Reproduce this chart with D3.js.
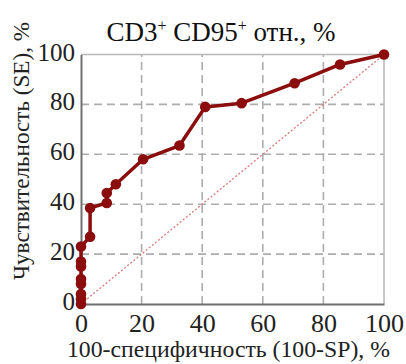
<!DOCTYPE html>
<html><head><meta charset="utf-8">
<script src="https://cdn.jsdelivr.net/npm/d3@7"></script>
<style>body{margin:0;background:#fff}svg{display:block}text{font-family:"Liberation Serif","Times New Roman",serif}</style>
</head><body>
<script>
const fpr = [0, 0, 0, 0, 0, 0, 0, 0, 3, 3, 8.5, 8.5, 11.5, 20.5, 32.5, 41, 53, 70.5, 85.5, 100];
const sens = [0, 2, 4, 8, 10, 15, 17, 23, 27, 38.5, 40.5, 44.5, 48, 58, 63.5, 79, 80.5, 88.5, 96, 100];
const ticks = [0, 20, 40, 60, 80, 100];
const title = "CD3";
const xLabel = "100-специфичность (100-SP), %";
const yLabel = "Чувствительность (SE), %";

const W = 406, H = 364;
const FF = '"Liberation Serif", "Times New Roman", serif';
const svg = d3.select("body").append("svg").attr("width", W).attr("height", H);
const x = d3.scaleLinear().domain([0, 100]).range([81, 384]);
const y = d3.scaleLinear().domain([0, 100]).range([304, 54.5]);

// gridlines
const g = svg.append("g");
g.selectAll(".gx").data(ticks.slice(1, -1)).join("line")
  .attr("x1", d => x(d)).attr("x2", d => x(d)).attr("y1", y(0)).attr("y2", y(100))
  .attr("stroke", "#adadad").attr("stroke-width", 1.6).attr("stroke-dasharray", "8,5");
g.selectAll(".gy").data(ticks.slice(1, -1)).join("line")
  .attr("y1", d => y(d)).attr("y2", d => y(d)).attr("x1", x(0)).attr("x2", x(100))
  .attr("stroke", "#adadad").attr("stroke-width", 1.6).attr("stroke-dasharray", "8,5");
// border top/right
g.append("path").attr("d", `M${x(0)},${y(100)}H${x(100)}V${y(0)}`)
  .attr("fill", "none").attr("stroke", "#b8b8b8").attr("stroke-width", 1.5);

// axes
const xa = svg.append("g").attr("transform", `translate(0,${y(0)})`)
  .call(d3.axisBottom(x).tickValues(ticks).tickSize(0).tickPadding(8).tickFormat(d3.format("d")));
const ya = svg.append("g").attr("transform", `translate(${x(0)},0)`)
  .call(d3.axisLeft(y).tickValues(ticks).tickSize(0).tickPadding(6).tickFormat(d3.format("d")));
[xa, ya].forEach(a => {
  a.attr("font-family", FF);
  a.select(".domain").attr("stroke", "#707070").attr("stroke-width", 2);
  a.selectAll("text").attr("fill", "#222").attr("font-family", FF);
});
xa.selectAll("text").attr("font-size", 26).attr("dy", "0.75em");
ya.selectAll("text").attr("font-size", 25).attr("dy", "0.22em");

// diagonal
svg.append("line").attr("x1", x(0)).attr("y1", y(0)).attr("x2", x(100)).attr("y2", y(100))
  .attr("stroke", "#d9797a").attr("stroke-width", 1.3).attr("stroke-dasharray", "2,2");

// ROC line
const pts = fpr.map((d, i) => [d, sens[i]]);
const col = "#8b0d0d";
svg.append("path").datum(pts)
  .attr("d", d3.line().x(d => x(d[0])).y(d => y(d[1])))
  .attr("fill", "none").attr("stroke", col).attr("stroke-width", 3.5).attr("stroke-linejoin", "round");
svg.selectAll(".pt").data(pts).join("circle")
  .attr("cx", d => x(d[0])).attr("cy", d => y(d[1])).attr("r", 5.3).attr("fill", col);

// title
const t = svg.append("text").attr("x", 221).attr("y", 41).attr("text-anchor", "middle")
  .attr("font-family", FF).attr("font-size", 27).attr("fill", "#111");
t.append("tspan").text(title);
t.append("tspan").text("+").attr("font-size", 16).attr("dy", -10);
t.append("tspan").text(" CD95").attr("dy", 10);
t.append("tspan").text("+").attr("font-size", 16).attr("dy", -10);
t.append("tspan").text(" отн., %").attr("dy", 10);

// axis labels
svg.append("text").attr("x", 228.5).attr("y", 357).attr("text-anchor", "middle")
  .attr("font-family", FF).attr("font-size", 23).attr("fill", "#222")
  .attr("textLength", 323).attr("lengthAdjust", "spacingAndGlyphs").text(xLabel);
svg.append("text").attr("transform", "translate(29,151) rotate(-90)").attr("text-anchor", "middle")
  .attr("font-family", FF).attr("font-size", 23).attr("fill", "#222")
  .attr("textLength", 258).attr("lengthAdjust", "spacingAndGlyphs").text(yLabel);
</script>
</body></html>
